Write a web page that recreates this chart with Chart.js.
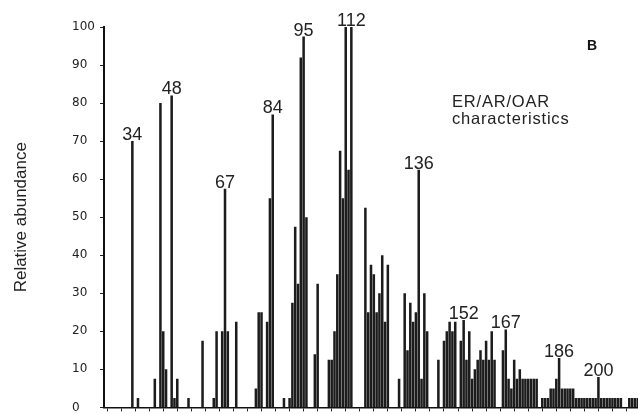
<!DOCTYPE html>
<html>
<head>
<meta charset="utf-8">
<script src="https://cdn.jsdelivr.net/npm/chart.js@4.4.0/dist/chart.umd.min.js"></script>
<style>
  body { margin: 0; background: #fff; }
</style>
</head>
<body>
<canvas id="chart-espectro" width="638" height="414"></canvas>
<script>
/* Espectro de masas - abundancia relativa por m/z */
var massCharge = [34, 36, 42, 44, 45, 46, 48, 49, 50, 54, 59, 63, 64, 66, 67, 68, 71,
  78, 79, 80, 82, 83, 84, 88, 90, 91, 92, 93, 94, 95, 96, 99, 100,
  104, 105, 106, 107, 108, 109, 110, 111, 112, 117, 118, 119, 120, 121, 122, 123, 124, 125,
  129, 131, 132, 133, 134, 135, 136, 137, 138, 139, 143, 145, 146, 147, 148, 149,
  151, 152, 153, 154, 155, 156, 157, 158, 159, 160, 161, 162, 163, 166, 167, 168, 169,
  170, 171, 172, 173, 174, 175, 176, 177, 178, 180, 181, 182, 183, 184, 185, 186,
  187, 188, 189, 190, 191, 192, 193, 194, 195, 196, 197, 198, 199, 200, 201, 202,
  203, 204, 205, 206, 207, 208, 211, 212, 213, 214];

var abundance = [70, 2.5, 7.5, 80, 20, 10, 82, 2.5, 7.5, 2.5, 17.5, 2.5, 20, 20, 57.5, 20, 22.5,
  5, 25, 25, 22.5, 55, 77, 2.5, 2.5, 27.5, 47.5, 32.5, 92, 97.5, 50, 14, 32.5,
  12.5, 12.5, 20, 35, 67.5, 55, 100, 62.5, 100, 52.5, 25, 37.5, 35, 25, 30, 40, 22.5, 37.5,
  7.5, 30, 15, 27.5, 22.5, 25, 62.5, 7.5, 30, 20, 12.5, 17.5, 20, 22.5, 20, 22.5,
  17.5, 23, 12.5, 20, 7.5, 10, 12.5, 15, 12.5, 17.5, 12.5, 20, 12.5, 15, 20.5, 7.5, 5,
  12.5, 7.5, 10, 7.5, 7.5, 7.5, 7.5, 7.5, 7.5, 2.5, 2.5, 2.5, 5, 5, 7.5, 13,
  5, 5, 5, 5, 5, 2.5, 2.5, 2.5, 2.5, 2.5, 2.5, 2.5, 2.5, 8, 2.5, 2.5,
  2.5, 2.5, 2.5, 2.5, 2.5, 2.5, 2.5, 2.5, 2.5, 2.5];

// picos con etiqueta
var labeledPeaks = [34, 48, 67, 84, 95, 112, 136, 152, 167, 186, 200];

var yTicks = [0, 10, 20, 30, 40, 50, 60, 70, 80, 90, 100];

var puntos = [];
for (let i = 0; i < massCharge.length; i++) {
  puntos.push({ x: massCharge[i], y: abundance[i] });
}

// Textos dibujados sobre el lienzo (etiquetas de picos, titulo del eje, leyenda)
var textosPlugin = {
  id: 'textos',
  afterDraw: function(chart) {
    var ctx = chart.ctx;
    var sx = chart.scales.x;
    var sy = chart.scales.y;
    ctx.save();
    ctx.fillStyle = '#222';

    ctx.font = '18px "Liberation Sans", Arial, sans-serif';
    ctx.textAlign = 'center';
    ctx.textBaseline = 'alphabetic';
    labeledPeaks.forEach(function(mz) {
      var i = massCharge.indexOf(mz);
      ctx.fillText(String(mz), sx.getPixelForValue(mz), sy.getPixelForValue(abundance[i]) - 1);
    });

    // titulo del eje y
    ctx.save();
    ctx.translate(21.5, (sy.top + sy.bottom) / 2);
    ctx.rotate(-Math.PI / 2);
    ctx.textBaseline = 'middle';
    ctx.font = '17px "Liberation Sans", Arial, sans-serif';
    ctx.fillText('Relative abundance', 0, 0);
    ctx.restore();

    ctx.textAlign = 'left';
    ctx.font = '16.5px "Liberation Sans", Arial, sans-serif';
    ctx.letterSpacing = '0.8px';
    ctx.fillText('ER/AR/OAR', 452, 107);
    ctx.fillText('characteristics', 452, 124);

    ctx.letterSpacing = '0px';
    ctx.font = 'bold 14px "Liberation Sans", Arial, sans-serif';
    ctx.fillStyle = '#111';
    ctx.fillText('B', 587, 50);
    ctx.restore();
  }
};

var ctx = document.getElementById('chart-espectro').getContext('2d');

new Chart(ctx, {
  type: 'bar',
  data: {
    datasets: [{
      label: 'Relative abundance',
      data: puntos,
      backgroundColor: '#1c1c1c',
      borderWidth: 0,
      categoryPercentage: 0.9,
      barPercentage: 1
    }]
  },
  options: {
    responsive: false,
    animation: false,
    layout: {
      padding: { left: 72, top: 27, right: 0, bottom: 1 }
    },
    plugins: {
      legend: { display: false },
      tooltip: { enabled: false }
    },
    scales: {
      x: {
        type: 'linear',
        offset: false,
        min: 23.9,
        max: 214.1,
        afterFit: function(scale) {
          scale.height = 5;
        },
        grid: {
          display: true,
          offset: false,
          drawOnChartArea: false,
          drawTicks: true,
          tickLength: 4,
          color: '#222'
        },
        border: { display: true, color: '#111', width: 1.5 },
        ticks: {
          display: false,
          stepSize: 5,
          includeBounds: false
        }
      },
      y: {
        min: 0,
        max: 100,
        afterFit: function(scale) {
          scale.width = 32;
        },
        afterBuildTicks: function(scale) {
          scale.ticks = yTicks.map(function(v) { return { value: v }; });
        },
        grid: {
          display: true,
          drawOnChartArea: false,
          drawTicks: true,
          tickLength: 4,
          color: '#222'
        },
        border: { display: true, color: '#111', width: 2 },
        ticks: {
          crossAlign: 'far',
          color: '#222',
          font: {
            size: 12,
            family: 'DejaVu Sans',
            lineHeight: 0.6
          }
        }
      }
    }
  },
  plugins: [textosPlugin]
});
</script>
</body>
</html>
